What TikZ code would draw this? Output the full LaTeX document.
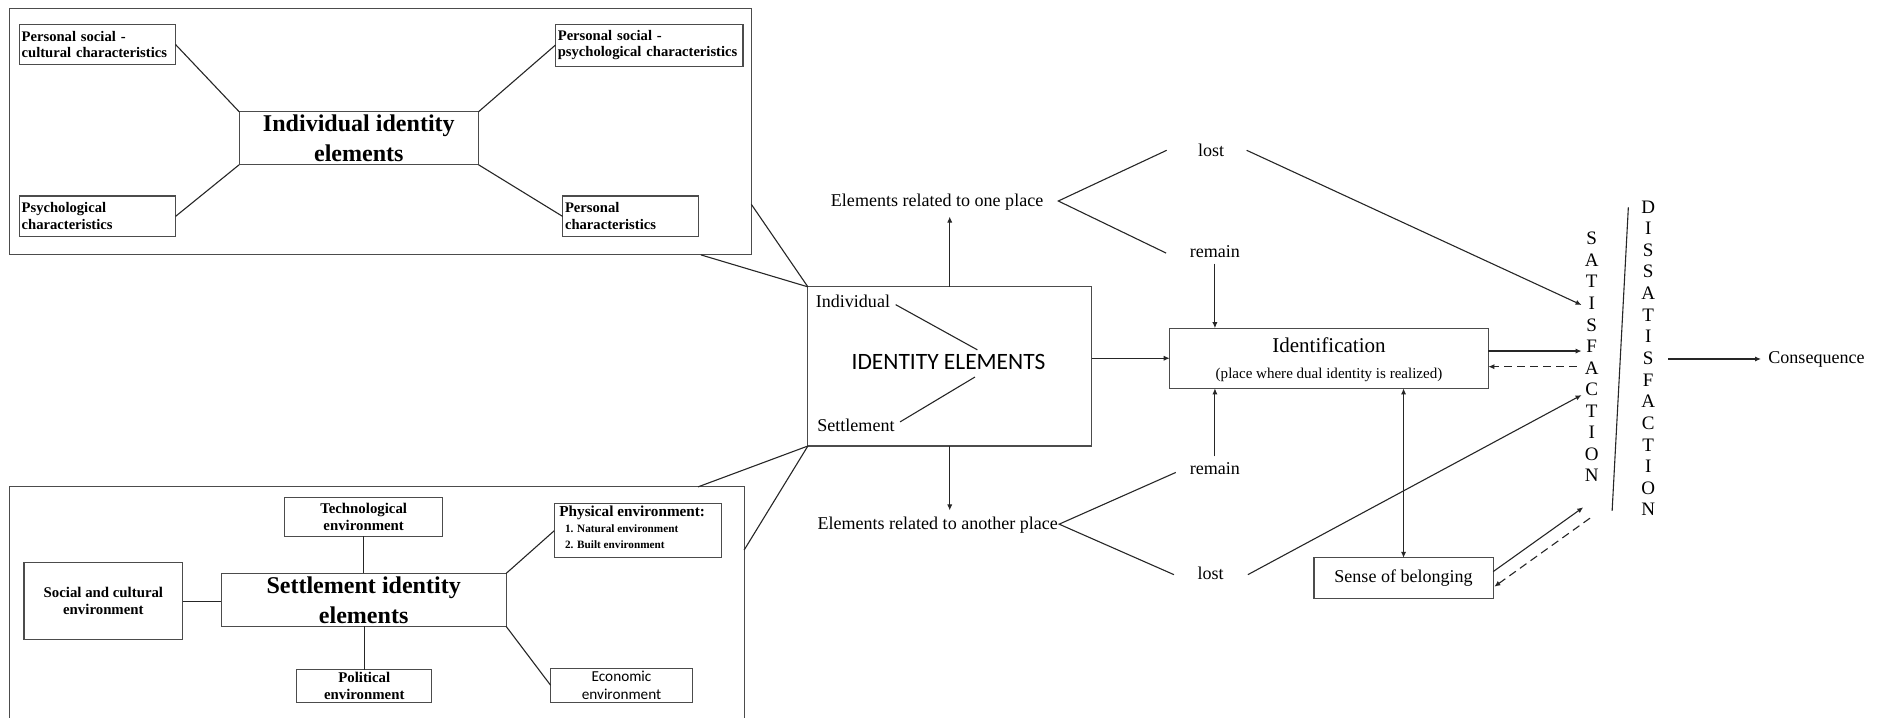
\documentclass[tikz,border=0pt]{standalone}
\usepackage{fontspec}
\setmainfont{Liberation Serif}
\newfontfamily\calib{Carlito}
\usetikzlibrary{arrows.meta}
\begin{document}
\begin{tikzpicture}[x=0.6pt, y=-0.6pt,
  box/.style={draw=black!70, line width=0.55pt, inner sep=0pt, outer sep=0pt},
  sz/.style 2 args={minimum width=#1*0.6pt, minimum height=#2*0.6pt},
  lbox/.style 2 args={box, sz={#1}{#2}, text width=#1*0.6pt-2.4pt, inner xsep=1.2pt, align=left, font=\fontsize{7.3}{8.4}\selectfont\bfseries},
  cbox/.style 2 args={box, sz={#1}{#2}, align=center, font=\fontsize{7.4}{8.8}\selectfont\bfseries},
  big/.style 2 args={box, sz={#1}{#2}, align=center, font=\fontsize{12}{15}\selectfont\bfseries},
  lbl/.style={inner sep=0pt, font=\fontsize{9}{10}\selectfont},
  ln/.style={draw=black!85, line width=0.55pt},
  arr/.style={ln, -{Latex[length=3pt,width=2.6pt]}},
  darr/.style={arr, dash pattern=on 4pt off 2.5pt},
  vert/.style={inner sep=0pt, align=center, font=\fontsize{9.5}{10.75}\selectfont},
]
\useasboundingbox (0,0) rectangle (1568,597);

% ---------- Individual identity section ----------
\node[box, sz={617}{205}] (indOuter) at (316.5,109.5) {};
\node[lbox={130}{34}] (psc) at (81,37) {Personal social -\\cultural characteristics};
\node[lbox={156}{35}] (psp) at (540,37.5) {Personal social -\\psychological characteristics};
\node[big={199}{44}] (indC) at (298.5,115) {Individual identity\\elements};
\node[lbox={130}{34}] (psy) at (81,180) {Psychological\\characteristics};
\node[lbox={113}{34}] (pc) at (524.5,180) {Personal\\characteristics};
\draw[ln] (psc.east) -- (indC.north west);
\draw[ln] (indC.north east) -- (psp.west);
\draw[ln] (indC.south west) -- (psy.east);
\draw[ln] (indC.south east) -- (pc.west);

% ---------- Settlement identity section ----------
\node[box, sz={611}{200}] (setOuter) at (313.5,505) {};
\node[cbox={131}{32}] (tech) at (302.5,430) {Technological\\environment};
\node[box, sz={139}{45}] (phys) at (530.5,441.5) {};
\node[inner sep=0pt, anchor=north west, align=left, font=\bfseries\fontsize{7.6}{8.1}\selectfont] (physT) at (465,420.5)
  {Physical environment:\\
   \hspace*{2.8pt}{\fontsize{5.6}{8.1}\selectfont 1. Natural environment}\\
   \hspace*{2.8pt}{\fontsize{5.6}{8.1}\selectfont 2. Built environment}};
\node[cbox={132}{64}] (soc) at (86,500) {Social and cultural\\environment};
\node[big={237}{44}] (setC) at (302.5,499) {Settlement identity\\elements};
\node[cbox={112}{27}] (pol) at (303,570.5) {Political\\environment};
\node[box, sz={118}{28}, align=center, font=\calib\fontsize{7.6}{8.8}\selectfont] (eco) at (517,570) {Economic\\environment};
\draw[ln] (tech.south) -- (setC.north -| tech.south);
\draw[ln] (setC.south -| pol.north) -- (pol.north);
\draw[ln] (soc.east) -- (setC.west |- soc.east);
\draw[ln] (setC.north east) -- (phys.west);
\draw[ln] (setC.south east) -- (eco.west);

% ---------- Identity elements ----------
\node[box, sz={236}{132.4}] (ie) at (790,304.8) {};
\node[inner sep=0pt, font=\calib\fontsize{11.7}{14}\selectfont] (ieT) at (789,301) {IDENTITY ELEMENTS};
\node[lbl] (lInd) at (709.5,251) {Individual};
\node[lbl] (lSet) at (712,353.5) {Settlement};
\coordinate (ci) at (813,291);
\coordinate (cs) at (811,313.6);
\draw[ln, shorten <=3pt] (lInd.east) -- (ci);
\draw[ln, shorten >=3pt] (cs) -- (lSet.east);

\coordinate (io1) at (625,170);
\coordinate (io2) at (583,212);
\coordinate (so1) at (580.6,405);
\coordinate (so2) at (619,457.5);
\draw[ln] (io1) -- (ie.north west);
\draw[ln] (io2) -- (ie.north west);
\draw[ln] (so1) -- (ie.south west);
\draw[ln] (so2) -- (ie.south west);

% ---------- upper branch ----------
\node[lbl] (one) at (779.5,168) {Elements related to one place};
\draw[arr, shorten >=3pt] (ie.north) -- (ie.north |- one.south);
\coordinate (oneV) at (880.3,167.2);
\coordinate (l1a) at (970.5,125);
\coordinate (r1a) at (970,210.5);
\node[lbl] (lost1) at (1007.5,125) {lost};
\node[lbl] (rem1) at (1010.6,209) {remain};
\draw[ln] (l1a) -- (oneV) -- (r1a);

% ---------- lower branch ----------
\node[lbl] (another) at (780,436.7) {Elements related to another place};
\draw[arr, shorten >=3pt] (ie.south) -- (ie.south |- another.north);
\coordinate (anV) at (881,436);
\coordinate (r2a) at (978,393);
\coordinate (l2a) at (976.5,478);
\node[lbl] (rem2) at (1010.6,390) {remain};
\node[lbl] (lost2) at (1007,477) {lost};
\draw[ln] (r2a) -- (anV) -- (l2a);

% ---------- identification ----------
\node[box, sz={265}{50}] (idn) at (1105.5,298) {};
\node[inner sep=0pt, anchor=base, font=\fontsize{10.5}{12}\selectfont] (idnT) at (1105.5,293) {Identification};
\node[inner sep=0pt, anchor=base, font=\fontsize{7.5}{9}\selectfont] (idnS) at (1105.5,315) {(place where dual identity is realized)};
\draw[arr] (idn.west -| ie.east) -- (idn.west);
\draw[arr, shorten <=3pt] (rem1.south) -- (rem1.south |- idn.north);
\draw[arr, shorten <=3pt] (rem2.north) -- (rem2.north |- idn.south);

\node[box, sz={149}{34}, font=\fontsize{9}{10}\selectfont] (sob) at (1167.5,481) {Sense of belonging};
\draw[arr, {Latex[length=3pt,width=2.6pt]}-{Latex[length=3pt,width=2.6pt]}] (idn.south -| sob.north) -- (sob.north);

% ---------- satisfaction / dissatisfaction ----------
\node[vert] (sat) at (1324,297) {S\\A\\T\\I\\S\\F\\A\\C\\T\\I\\O\\N};
\node[vert, font=\fontsize{9.5}{10.8}\selectfont] (dis) at (1371,298) {D\\I\\S\\S\\A\\T\\I\\S\\F\\A\\C\\T\\I\\O\\N};
\coordinate (sl1) at (1354.5,172.4);
\coordinate (sl2) at (1341,425);
\draw[ln] (sl1) -- (sl2);

\coordinate (l1b) at (1037,125);
\coordinate (sI) at (1315.6,253.7);
\draw[arr] (l1b) -- (sI);
\coordinate (sF) at (1315.6,292);
\draw[arr] (idn.east |- sF) -- (sF);
\coordinate (sA) at (1311.5,305);
\draw[darr] (sA) -- (idn.east |- sA);
\coordinate (l2b) at (1038,478);
\coordinate (sC) at (1315.6,328.6);
\draw[arr] (l2b) -- (sC);
\coordinate (sbA) at (1242,475.5);
\coordinate (sN) at (1317,422);
\draw[arr] (sbA) -- (sN);
\coordinate (sN2) at (1322.6,431);
\coordinate (sbB) at (1243,488);
\draw[darr] (sN2) -- (sbB);

\node[lbl] (cons) at (1511,298.6) {Consequence};
\coordinate (dA) at (1387.7,298.6);
\draw[arr, shorten >=3.5pt] (dA) -- (cons.west);
\end{tikzpicture}
\end{document}
